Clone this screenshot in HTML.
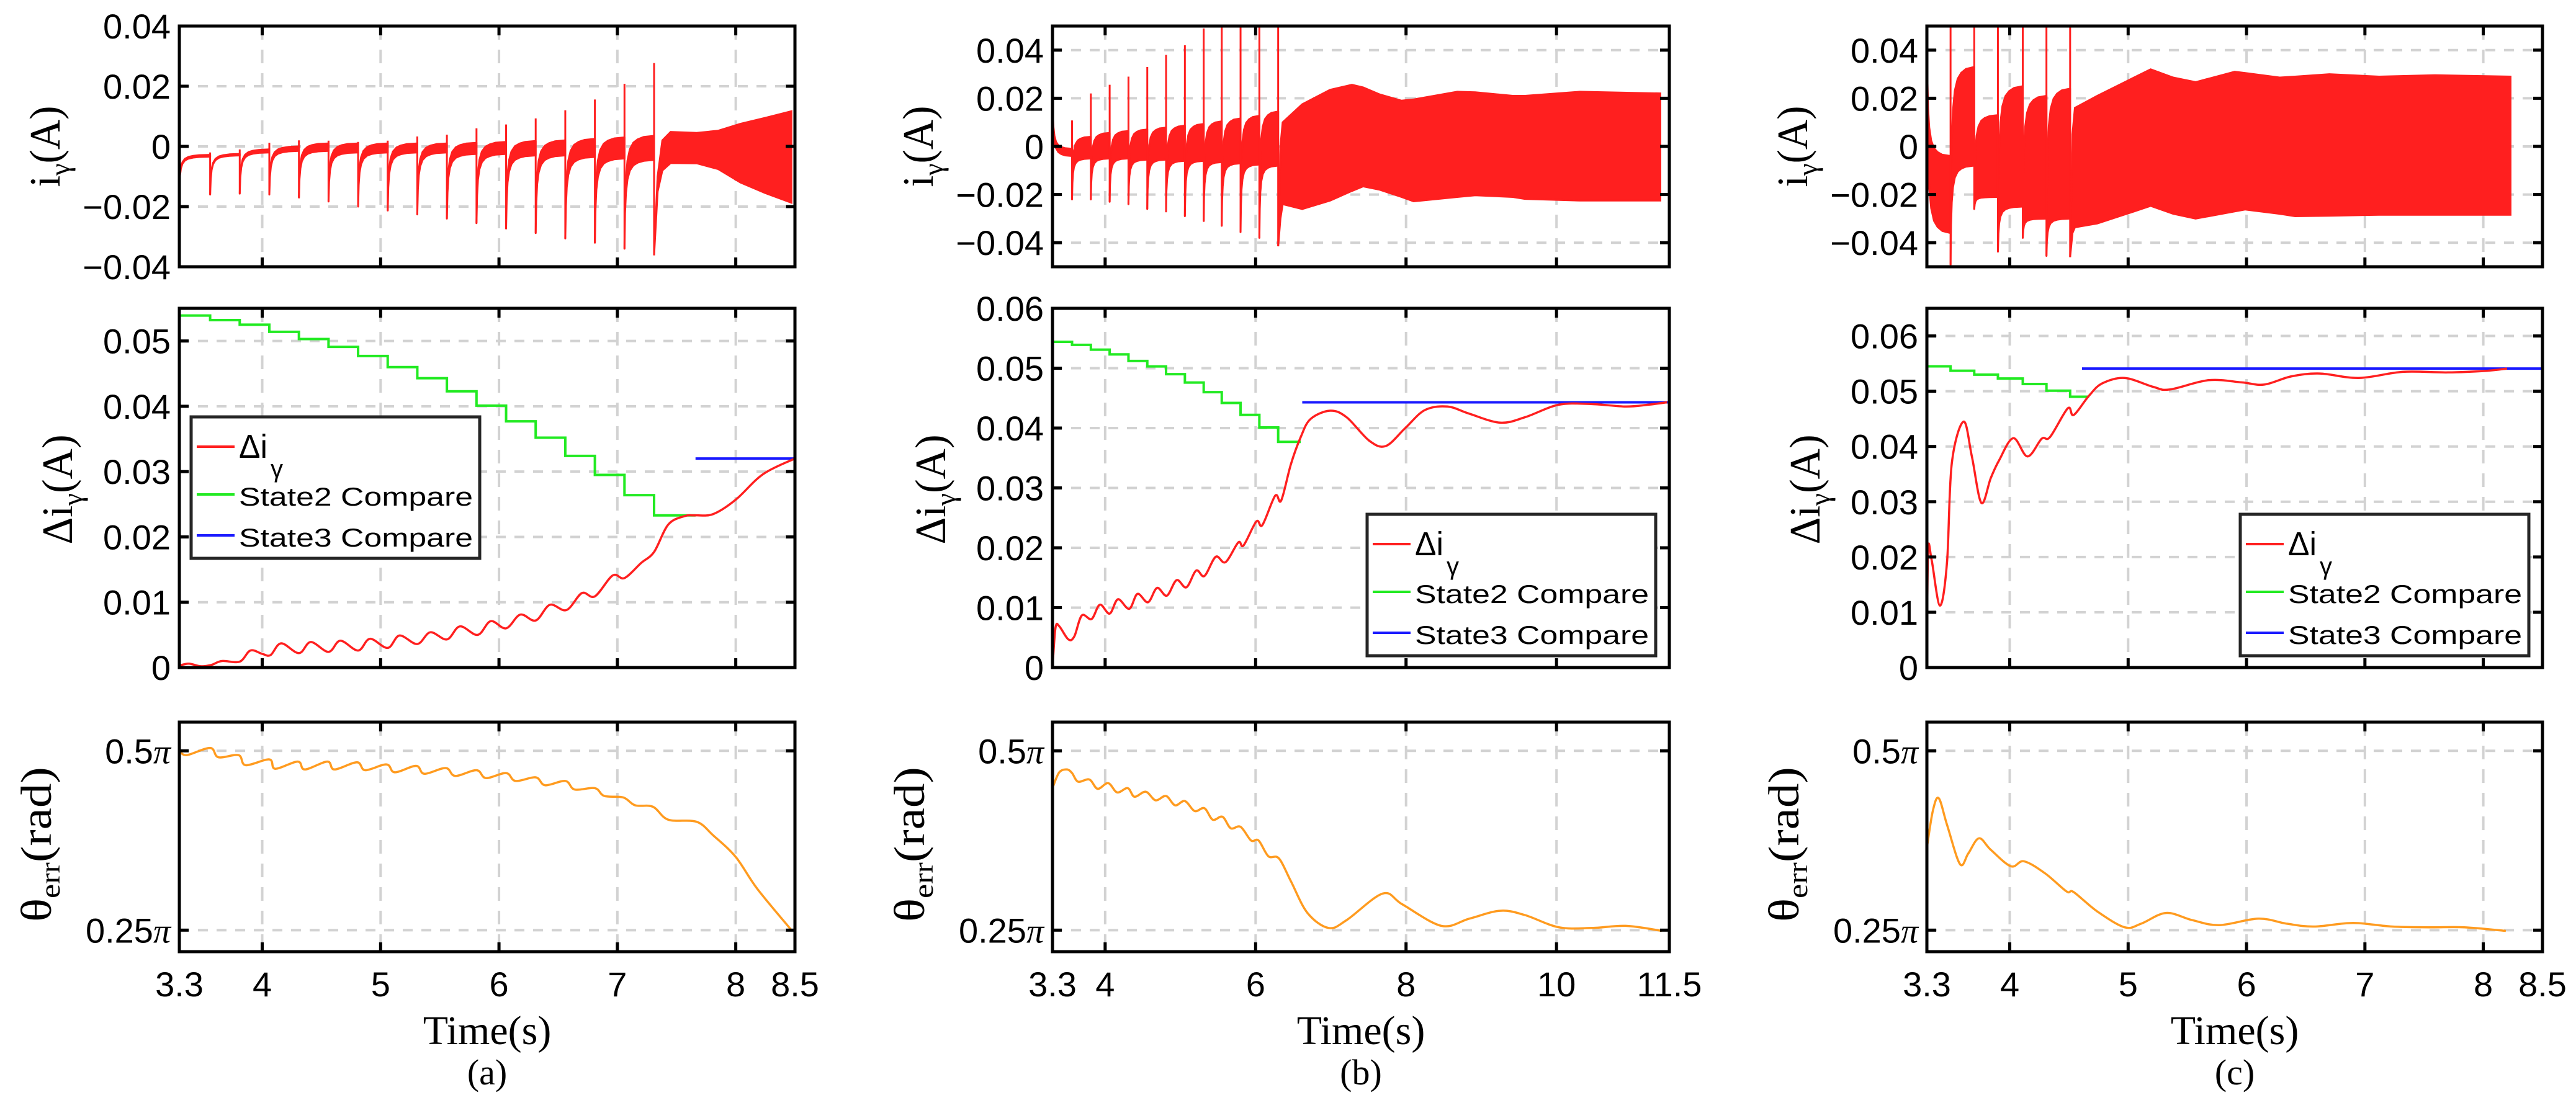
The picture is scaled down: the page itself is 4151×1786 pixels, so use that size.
<!DOCTYPE html>
<html><head><meta charset="utf-8"><style>
html,body{margin:0;padding:0;background:#fff;}
svg{display:block;}
text{font-family:"Liberation Sans",sans-serif;}
.serif{font-family:"Liberation Serif",serif;}
</style></head><body>
<svg id="fig" xmlns="http://www.w3.org/2000/svg" width="4151" height="1786" viewBox="0 0 4151 1786">
<rect width="4151" height="1786" fill="#fff"/>
</svg>
<script>
// ---------- DATA ----------
// Panel (a)
const aSpikeT = [3.56,3.81,4.06,4.31,4.56,4.81,5.06,5.31,5.56,5.81,6.06,6.31,6.56,6.81,7.06,7.31];
const aSpikeHi = [-0.002,-0.001,0.0012,0.002,0.0019,0.0015,0.0019,0.0033,0.0039,0.006,0.0073,0.0093,0.012,0.0156,0.0208,0.0277];
const aSpikeLo = [-0.016,-0.0157,-0.016,-0.017,-0.0183,-0.020,-0.0213,-0.0226,-0.024,-0.0255,-0.0273,-0.0288,-0.0306,-0.032,-0.034,-0.0362];
const aInit = [-0.014,-0.0028,-0.0034];
const aBandHi = [-0.0025,-0.001,0.000,0.001,0.001,0.001,0.001,0.001,0.0012,0.0015,0.0018,0.002,0.0025,0.003,0.0035];
const aBandLo = [-0.003,-0.002,-0.0015,-0.0015,-0.002,-0.002,-0.002,-0.002,-0.0025,-0.0025,-0.003,-0.003,-0.0035,-0.004,-0.0045];
const aEnvT = [7.31,7.34,7.38,7.45,7.67,7.85,8.04,8.25,8.47];
const aEnvHi = [-0.0362,-0.01,0.002,0.0048,0.0045,0.0052,0.0075,0.0095,0.0117];
const aEnvLo = [-0.0362,-0.015,-0.008,-0.0055,-0.0056,-0.0075,-0.012,-0.0155,-0.0187];
const aStepT = [3.30,3.56,3.81,4.06,4.31,4.56,4.81,5.06,5.31,5.56,5.81,6.06,6.31,6.56,6.81,7.06,7.31,7.66];
const aStepV = [0.0539,0.0532,0.0525,0.0514,0.0503,0.0491,0.0477,0.0460,0.0443,0.0423,0.0401,0.0377,0.0352,0.0324,0.0295,0.0264,0.0233];
const aS3 = [7.66,8.5,0.0320];
const aDT = [3.30,3.38,3.48,3.57,3.66,3.81,3.90,4.00,4.07,4.16,4.31,4.41,4.56,4.66,4.81,4.91,5.06,5.16,5.31,5.42,5.56,5.67,5.82,5.93,6.06,6.18,6.31,6.43,6.57,6.70,6.81,6.96,7.06,7.20,7.31,7.43,7.57,7.66,7.81,8.00,8.23,8.50];
const aDV = [0.0003,0.0006,0.0002,0.0004,0.0010,0.0009,0.0026,0.0021,0.0019,0.0037,0.0022,0.0039,0.0024,0.0041,0.0026,0.0044,0.0030,0.0049,0.0036,0.0054,0.0043,0.0063,0.0050,0.0071,0.0060,0.0081,0.0072,0.0096,0.0088,0.0114,0.0109,0.0141,0.0137,0.0160,0.0177,0.0219,0.0232,0.0233,0.0235,0.0257,0.0296,0.0320];
const aThT = [3.30,3.36,3.56,3.63,3.80,3.86,4.06,4.11,4.30,4.36,4.55,4.61,4.80,4.87,5.05,5.12,5.30,5.37,5.55,5.63,5.81,5.89,6.06,6.14,6.31,6.39,6.56,6.64,6.81,6.89,7.05,7.15,7.30,7.43,7.67,7.81,8.00,8.18,8.47];
const aThV = [0.501,0.494,0.504,0.491,0.494,0.480,0.488,0.475,0.485,0.474,0.485,0.474,0.484,0.473,0.481,0.470,0.479,0.468,0.476,0.465,0.473,0.462,0.469,0.458,0.463,0.452,0.458,0.446,0.448,0.437,0.435,0.424,0.422,0.404,0.401,0.382,0.352,0.308,0.25];
// Panel (b)
const bSpikeT = [3.56,3.81,4.06,4.31,4.56,4.81,5.06,5.31,5.55,5.80,6.05,6.30];
const bSpikeHi = [0.0108,0.022,0.0256,0.029,0.033,0.038,0.042,0.049,0.05,0.05,0.05,0.05];
const bSpikeLo = [-0.022,-0.022,-0.023,-0.024,-0.026,-0.027,-0.029,-0.031,-0.033,-0.0356,-0.038,-0.0415];
const bInit = [0.023,-0.001,-0.004];
const bBandHi = [0.004,0.0056,0.0064,0.007,0.0078,0.0086,0.0093,0.0104,0.0116,0.0127,0.0145];
const bBandLo = [-0.005,-0.005,-0.005,-0.0055,-0.0055,-0.006,-0.006,-0.0065,-0.007,-0.0075,-0.008];
const bEnvT = [6.30,6.33,6.36,6.62,6.99,7.28,7.43,7.65,7.94,8.10,8.68,8.92,9.42,9.58,10.31,11.38];
const bEnvHi = [-0.0415,0.000,0.010,0.0175,0.0235,0.0256,0.0245,0.0216,0.019,0.0195,0.0227,0.0225,0.021,0.021,0.0227,0.022];
const bEnvLo = [-0.0415,-0.030,-0.024,-0.026,-0.0225,-0.0185,-0.0166,-0.018,-0.021,-0.0228,-0.021,-0.0203,-0.021,-0.0218,-0.0225,-0.0225];
const bStepT = [3.30,3.56,3.81,4.06,4.31,4.56,4.81,5.06,5.31,5.55,5.80,6.05,6.30,6.60];
const bStepV = [0.0544,0.0539,0.0531,0.0523,0.0512,0.0503,0.049,0.0476,0.046,0.0442,0.0422,0.0401,0.0377];
const bS3 = [6.62,11.5,0.0443];
const bDT = [3.30,3.34,3.39,3.51,3.59,3.69,3.82,3.93,4.06,4.17,4.32,4.43,4.57,4.69,4.82,4.95,5.08,5.21,5.32,5.47,5.60,5.77,5.84,6.01,6.09,6.26,6.34,6.47,6.60,6.73,6.99,7.21,7.51,7.73,7.99,8.25,8.55,8.84,9.25,9.58,10.03,10.47,10.92,11.22,11.47];
const bDV = [0,0.0066,0.0069,0.0047,0.0052,0.0087,0.0081,0.0105,0.0090,0.0114,0.0098,0.0123,0.0109,0.0133,0.0120,0.0146,0.0134,0.0162,0.0153,0.0185,0.0176,0.0209,0.0204,0.0244,0.0238,0.0287,0.0279,0.0340,0.0385,0.0415,0.0429,0.0418,0.0379,0.0370,0.0400,0.0430,0.0436,0.0424,0.0409,0.0418,0.0439,0.0440,0.0436,0.0439,0.0443];
const bThT = [3.31,3.39,3.49,3.56,3.64,3.79,3.90,4.04,4.16,4.30,4.39,4.54,4.67,4.81,4.93,5.06,5.19,5.32,5.43,5.56,5.67,5.80,5.94,6.04,6.17,6.31,6.47,6.69,6.97,7.21,7.69,7.95,8.47,8.84,9.25,9.58,10.03,10.47,10.92,11.40];
const bThV = [0.451,0.470,0.474,0.469,0.457,0.460,0.447,0.455,0.442,0.448,0.436,0.443,0.431,0.437,0.424,0.430,0.416,0.420,0.404,0.408,0.392,0.394,0.375,0.375,0.353,0.350,0.318,0.274,0.253,0.264,0.301,0.286,0.256,0.266,0.277,0.271,0.254,0.253,0.256,0.249];
// Panel (c)
const cSpikeT = [3.50,3.70,3.90,4.11,4.31,4.51];
const cSpikeHi = [0.05,0.05,0.05,0.05,0.05,0.05];
const cSpikeLo = [-0.0492,-0.026,-0.0437,-0.038,-0.0455,-0.046];
const cInit = [0.05,-0.004,-0.036];
const cBandHi = [0.033,0.013,0.025,0.021,0.024];
const cBandLo = [-0.008,-0.021,-0.025,-0.030,-0.030];
const cEnvT = [4.51,4.53,4.55,4.74,5.05,5.19,5.38,5.57,5.90,5.99,6.28,6.41,6.70,7.12,7.59,8.23];
const cEnvHi = [-0.046,0.005,0.016,0.021,0.0286,0.032,0.0286,0.0267,0.031,0.0305,0.0286,0.029,0.030,0.029,0.0296,0.029];
const cEnvLo = [-0.046,-0.036,-0.0336,-0.032,-0.027,-0.0247,-0.028,-0.030,-0.027,-0.0262,-0.028,-0.029,-0.0288,-0.0284,-0.0284,-0.0284];
const cStepT = [3.30,3.50,3.70,3.90,4.11,4.31,4.51,4.67];
const cStepV = [0.0545,0.0537,0.053,0.0523,0.0513,0.0501,0.049];
const cS3 = [4.61,8.5,0.0541];
const cDT = [3.30,3.31,3.34,3.41,3.47,3.51,3.61,3.68,3.76,3.84,3.91,4.03,4.15,4.27,4.34,4.49,4.54,4.67,4.78,4.97,5.21,5.35,5.68,5.96,6.15,6.38,6.62,6.95,7.32,7.70,8.03,8.20];
const cDV = [0,0.021,0.0195,0.0112,0.019,0.0369,0.0445,0.0382,0.0298,0.0343,0.0375,0.0415,0.0382,0.0414,0.0417,0.0469,0.0457,0.0492,0.0514,0.0524,0.0508,0.0503,0.052,0.0516,0.0512,0.0527,0.0532,0.0524,0.0535,0.0534,0.0537,0.0541];
const cThT = [3.30,3.35,3.40,3.47,3.58,3.65,3.74,3.84,4.01,4.12,4.30,4.48,4.54,4.74,4.97,5.11,5.32,5.54,5.77,6.10,6.34,6.57,6.90,7.23,7.56,7.84,8.19];
const cThV = [0.365,0.416,0.434,0.397,0.342,0.357,0.378,0.362,0.339,0.346,0.329,0.304,0.303,0.276,0.254,0.259,0.274,0.264,0.257,0.266,0.259,0.255,0.260,0.255,0.254,0.254,0.249];
// ticks
const xTicksAC = [3.3,4,5,6,7,8,8.5];
const xTicksB = [3.3,4,6,8,10,11.5];
const topTicks = [-0.04,-0.02,0,0.02,0.04];
const topLabels = ["\u22120.04","\u22120.02","0","0.02","0.04"];
const midTicksA = [0,0.01,0.02,0.03,0.04,0.05];
const midTicksBC = [0,0.01,0.02,0.03,0.04,0.05,0.06];
const thTicks = [0.25,0.5];
const thLabels = ["0.25","0.5"];
// recovery shape after each spike (fraction of time, fraction recovered)
const RU = [0,0.02,0.05,0.1,0.18,0.3,0.45,0.65,1];
const RR = [0,0.4,0.63,0.78,0.88,0.94,0.97,0.99,1];

// ---------- DRAWING ----------
const NS = "http://www.w3.org/2000/svg";
const svg = document.getElementById('fig');
function el(tag, attrs, parent){const e=document.createElementNS(NS,tag);for(const k in attrs)e.setAttribute(k,attrs[k]);(parent||svg).appendChild(e);return e;}
const ROWS = {top:[42,430], mid:[497,1076], bot:[1164,1534]};
const RED="#ff1f1f", GREEN="#22ea22", BLUE="#1a1aff", ORANGE="#ff9b1f";

function linScale(d0,d1,r0,r1){return v=>r0+(v-d0)/(d1-d0)*(r1-r0);}
function smoothPath(pts){
  if(pts.length<2)return "";
  let d="M"+pts[0][0].toFixed(1)+","+pts[0][1].toFixed(1);
  for(let i=0;i<pts.length-1;i++){
    const p0=pts[Math.max(0,i-1)],p1=pts[i],p2=pts[i+1],p3=pts[Math.min(pts.length-1,i+2)];
    const c1=[p1[0]+(p2[0]-p0[0])/6,p1[1]+(p2[1]-p0[1])/6];
    const c2=[p2[0]-(p3[0]-p1[0])/6,p2[1]-(p3[1]-p1[1])/6];
    d+="C"+c1[0].toFixed(1)+","+c1[1].toFixed(1)+" "+c2[0].toFixed(1)+","+c2[1].toFixed(1)+" "+p2[0].toFixed(1)+","+p2[1].toFixed(1);
  }
  return d;
}
let clipId=0;
function makeAxes(name,x0,x1,xlim,row,ylim,yTicks,yLabels,xTicks,showXLabels,isPi){
  const [y0,y1]=ROWS[row];
  const sx=linScale(xlim[0],xlim[1],x0,x1), sy=linScale(ylim[0],ylim[1],y1,y0);
  const g=el('g',{});
  
  
  const grid=el('g',{},g);
  
  
  xTicks.forEach(t=>{const X=sx(t);if(X>x0+4&&X<x1-4)el('line',{x1:X,y1:y0,x2:X,y2:y1,stroke:"#d2d2d2","stroke-width":4,"stroke-dasharray":"22,16"},grid);});
  yTicks.forEach(t=>{const Y=sy(t);if(Y>y0+4&&Y<y1-4)el('line',{x1:x0,y1:Y,x2:x1,y2:Y,stroke:"#d2d2d2","stroke-width":4,"stroke-dasharray":"16,14"},grid);});
  const id="clip"+(clipId++);
  const cp=el('clipPath',{id:id},g);el('rect',{x:x0,y:y0,width:x1-x0,height:y1-y0},cp);
  const plot=el('g',{"clip-path":"url(#"+id+")"},g);
  
  
  const frame=el('g',{},g);
  
  
  xTicks.forEach(t=>{const X=sx(t);el('line',{x1:X,y1:y0,x2:X,y2:y0+15,stroke:"#000","stroke-width":5},frame);el('line',{x1:X,y1:y1,x2:X,y2:y1-15,stroke:"#000","stroke-width":5},frame);});
  yTicks.forEach((t,i)=>{const Y=sy(t);el('line',{x1:x0,y1:Y,x2:x0+15,y2:Y,stroke:"#000","stroke-width":5},frame);el('line',{x1:x1,y1:Y,x2:x1-15,y2:Y,stroke:"#000","stroke-width":5},frame);
    const tx=el('text',{x:x0-14,y:Y+20,"font-size":56,"text-anchor":"end",fill:"#000"},g);
    
    
    if(isPi){tx.textContent=yLabels[i];const ts=el('tspan',{"font-family":"Liberation Serif, serif","font-style":"italic"},tx);ts.textContent="\u03c0";}
    else tx.textContent=yLabels[i];
  });
  el('rect',{x:x0,y:y0,width:x1-x0,height:y1-y0,fill:"none",stroke:"#000","stroke-width":5},frame);
  if(showXLabels){xTicks.forEach(t=>{const tx=el('text',{x:sx(t),y:1606,"font-size":56,"text-anchor":"middle",fill:"#000"},g);
    
    
    tx.textContent=String(t);});}
  return {sx,sy,plot};
}
function drawSpiky(ax,spT,spHi,spLo,init,bandHi,bandLo,envT,envHi,envLo,t0){
  const {sx,sy,plot}=ax;
  const segs=[{t0:t0,v0:init[0],hi:init[1],lo:init[2],t1:spT[0]}];
  for(let k=0;k<spT.length-1;k++)segs.push({t0:spT[k],v0:spLo[k],hi:bandHi[k],lo:bandLo[k],t1:spT[k+1]});
  segs.forEach(s=>{
    const up=[],dn=[];
    RU.forEach((u,i)=>{const t=s.t0+(s.t1-s.t0)*u;up.push([sx(t),sy(s.v0+(s.hi-s.v0)*RR[i])]);dn.push([sx(t),sy(s.v0+(s.lo-s.v0)*RR[i])]);});
    const pts=up.concat(dn.reverse());
    const p=el('polygon',{points:pts.map(q=>q[0].toFixed(1)+","+q[1].toFixed(1)).join(" "),fill:RED,stroke:RED,"stroke-width":3,"stroke-linejoin":"round"},plot);
    
    
  });
  spT.forEach((t,k)=>{const l=el('line',{x1:sx(t),y1:sy(spHi[k]),x2:sx(t),y2:sy(spLo[k]),stroke:RED,"stroke-width":3},plot);
    
    });
  const pts=envT.map((t,i)=>[sx(t),sy(envHi[i])]).concat(envT.map((t,i)=>[sx(t),sy(envLo[i])]).reverse());
  const e=el('polygon',{points:pts.map(q=>q[0].toFixed(1)+","+q[1].toFixed(1)).join(" "),fill:RED,stroke:RED,"stroke-width":3},plot);
  
  
}
function drawSteps(ax,stepT,stepV,s3){
  const {sx,sy,plot}=ax;
  let d="M"+sx(stepT[0])+","+sy(stepV[0]);
  for(let i=0;i<stepV.length;i++){d+=" L"+sx(stepT[i+1])+","+sy(stepV[i]);if(i+1<stepV.length)d+=" L"+sx(stepT[i+1])+","+sy(stepV[i+1]);}
  const g=el('path',{d:d,fill:"none",stroke:GREEN,"stroke-width":4},plot);
  
  
  const b=el('line',{x1:sx(s3[0]),y1:sy(s3[2]),x2:sx(s3[1]),y2:sy(s3[2]),stroke:BLUE,"stroke-width":4},plot);
  
  
}
function drawCurve(ax,T,V,color,name){
  const {sx,sy,plot}=ax;
  const p=el('path',{d:smoothPath(T.map((t,i)=>[sx(t),sy(V[i])])),fill:"none",stroke:color,"stroke-width":3.5,"stroke-linejoin":"round"},plot);
  
  
}
function legend(x,y,name){
  const g=el('g',{});
  
  
  el('rect',{x:x,y:y,width:465,height:228,fill:"#fff",stroke:"#262626","stroke-width":5},g);
  const rows=[[48,RED],[125,GREEN],[191,BLUE]];
  rows.forEach(r=>el('line',{x1:x+9,y1:y+r[0],x2:x+70,y2:y+r[0],stroke:r[1],"stroke-width":4},g));
  const t1=el('text',{x:x+77,y:y+66,"font-size":54,fill:"#000",textLength:46,lengthAdjust:"spacingAndGlyphs"},g);
  
  
  t1.textContent="\u0394i";
  const t1s=el('text',{x:x+128,y:y+97,"font-size":40,fill:"#000"},g);t1s.textContent="\u03b3";
  const t2=el('text',{x:x+77,y:y+143,"font-size":42,fill:"#000",textLength:377,lengthAdjust:"spacingAndGlyphs"},g);
  
  
  t2.textContent="State2 Compare";
  const t3=el('text',{x:x+77,y:y+209,"font-size":42,fill:"#000",textLength:377,lengthAdjust:"spacingAndGlyphs"},g);
  
  
  t3.textContent="State3 Compare";
}
function yLabel(cy,base,len,kind,name){
  const g=el('g',{transform:"translate("+base+","+cy+") rotate(-90)"});
  
  
  const t=el('text',{x:0,y:0,class:"serif","font-size":70,fill:"#000"},g);
  if(kind==="i"){t.appendChild(document.createTextNode("i"));const s=el('tspan',{"font-size":46,dy:16},t);s.textContent="\u03b3";const r=el('tspan',{dy:-16},t);r.textContent="(A)";}
  else if(kind==="di"){t.appendChild(document.createTextNode("\u0394i"));const s=el('tspan',{"font-size":46,dy:16},t);s.textContent="\u03b3";const r=el('tspan',{dy:-16},t);r.textContent="(A)";}
  else {t.appendChild(document.createTextNode("\u03b8"));const s=el('tspan',{"font-size":46,dy:14},t);s.textContent="err";const r=el('tspan',{dy:-14},t);r.textContent="(rad)";}
  let w=len;
  try{w=t.getBBox().width||len;}catch(e){}
  const k=len/w;
  t.setAttribute('transform',"scale("+k.toFixed(3)+",1) translate("+(-w/2).toFixed(1)+",0)");
}
function panel(letter,x0,x1,xlim,xTicks,topY,midY,midTicks,d){
  const off=x0-289;
  const top=makeAxes('panel-'+letter+'-current-axes',x0,x1,xlim,'top',topY,topTicks,topLabels,xTicks,false,false);
  drawSpiky(top,d.spT,d.spHi,d.spLo,d.init,d.bHi,d.bLo,d.eT,d.eHi,d.eLo,xlim[0]);
  const mid=makeAxes('panel-'+letter+'-delta-axes',x0,x1,xlim,'mid',midY,midTicks,midTicks.map(v=>v===0?"0":v.toFixed(2)),xTicks,false,false);
  drawSteps(mid,d.sT,d.sV,d.s3);
  drawCurve(mid,d.dT,d.dV,RED,'delta-i-curve');
  const bot=makeAxes('panel-'+letter+'-theta-axes',x0,x1,xlim,'bot',[0.22,0.54],thTicks,thLabels,xTicks,true,true);
  drawCurve(bot,d.thT,d.thV,ORANGE,'theta-err-curve');
  yLabel(236,96+off,131,"i",'y-axis-title-current');
  yLabel(789,116+off,177,"di",'y-axis-title-delta');
  yLabel(1361,82+off,250,"th",'y-axis-title-theta');
  const cx=(x0+x1)/2;
  const tt=el('text',{x:cx,y:1683,class:"serif","font-size":66,"text-anchor":"middle",fill:"#000"});
  
  
  tt.textContent="Time(s)";
  const cap=el('text',{x:cx,y:1748,class:"serif","font-size":58,"text-anchor":"middle",fill:"#000"});
  
  
  cap.textContent="("+letter+")";
}
panel('a',289,1281,[3.3,8.5],xTicksAC,[-0.04,0.04],[0,0.055],midTicksA,
  {spT:aSpikeT,spHi:aSpikeHi,spLo:aSpikeLo,init:aInit,bHi:aBandHi,bLo:aBandLo,eT:aEnvT,eHi:aEnvHi,eLo:aEnvLo,sT:aStepT,sV:aStepV,s3:aS3,dT:aDT,dV:aDV,thT:aThT,thV:aThV});
panel('b',1696,2690,[3.3,11.5],xTicksB,[-0.05,0.05],[0,0.06],midTicksBC,
  {spT:bSpikeT,spHi:bSpikeHi,spLo:bSpikeLo,init:bInit,bHi:bBandHi,bLo:bBandLo,eT:bEnvT,eHi:bEnvHi,eLo:bEnvLo,sT:bStepT,sV:bStepV,s3:bS3,dT:bDT,dV:bDV,thT:bThT,thV:bThV});
panel('c',3105,4097,[3.3,8.5],xTicksAC,[-0.05,0.05],[0,0.065],midTicksBC,
  {spT:cSpikeT,spHi:cSpikeHi,spLo:cSpikeLo,init:cInit,bHi:cBandHi,bLo:cBandLo,eT:cEnvT,eHi:cEnvHi,eLo:cEnvLo,sT:cStepT,sV:cStepV,s3:cS3,dT:cDT,dV:cDV,thT:cThT,thV:cThV});
legend(308,672,'legend-a');
legend(2203,829,'legend-b');
legend(3610,829,'legend-c');
</script>
</body></html>
